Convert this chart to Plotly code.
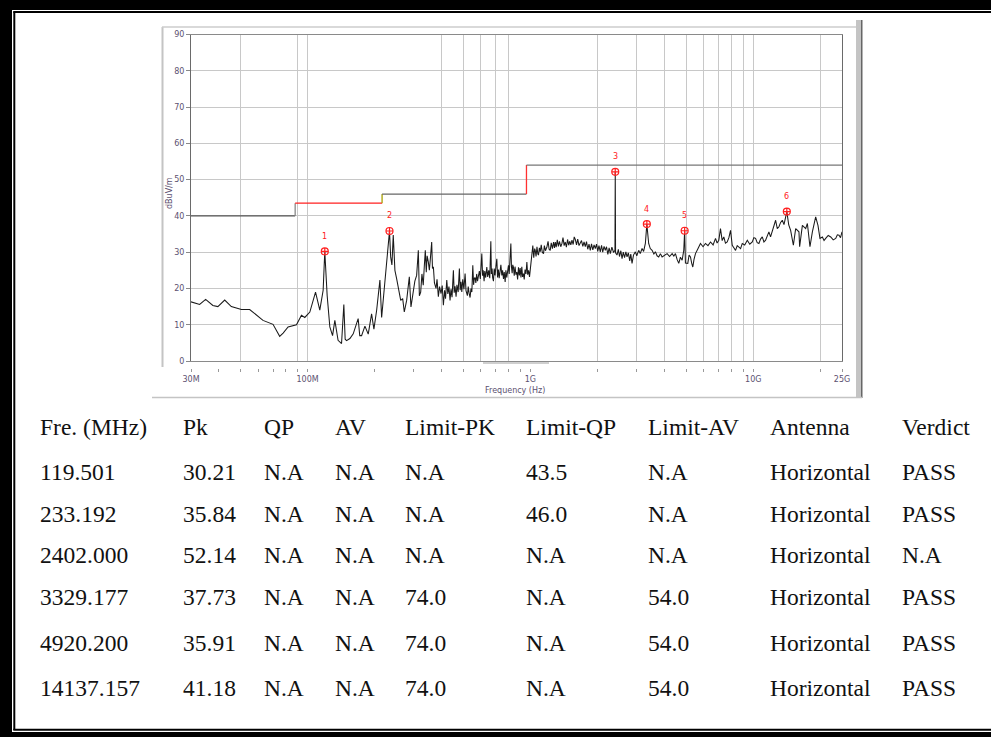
import math
import plotly.graph_objects as go

# ---------------- data ----------------
freq_mhz = [
    30.0, 32.8, 34.9, 37.6, 39.6, 42.5, 45.5, 50.5, 55.0, 59.0, 63.1, 70.0, 75.0, 77.7, 81.8,
    89.2, 93.9, 97.2, 102.4, 108.6, 113.5, 117.5, 119.5, 122.5, 125.9, 129.5, 132.6, 137.1,
    142.1, 145.5, 147.5, 149.7, 154.9, 160.3, 168.7, 171.5, 174.8, 180.9, 187.2, 193.8, 198.5,
    204.2, 211.2, 215.0, 222.4, 227.8, 233.2, 236.0, 239.1, 242.4, 246.6, 251.0, 255.3, 261.8,
    267.2, 271.7, 278.4, 286.2, 291.1, 298.2, 303, 308.7, 314.1, 317.5, 321.9, 326, 330.5, 334,
    337.6, 341, 344, 348.3, 352, 356, 360.6, 363.5, 366.9, 371, 377.1, 381, 386.3, 391, 397.3,
    402, 406.9, 412, 416, 421.4, 426, 431, 435.9, 440, 445, 451.2, 455, 459, 463.9, 468, 474,
    480, 484, 488, 492.1, 497, 503, 509.2, 514, 521.4, 526, 531, 536.2, 541, 546, 551.4, 556,
    560, 564.6, 569, 574, 579, 584.2, 590, 596, 605.2, 610, 614, 619.6, 624, 630, 637.2, 643,
    650, 657, 664.3, 668, 673, 677, 682.5, 688, 694, 700, 706.7, 712, 718, 724, 731.4, 737,
    744.2, 750, 757, 763, 770.2, 776, 783, 790, 797, 803, 810, 817, 822, 828, 833, 839, 846,
    853, 861, 869, 876, 884, 892, 899.5, 907, 915, 922, 930.6, 938, 946, 955, 964, 972, 981,
    990.6, 1015, 1025, 1035, 1045, 1051, 1060, 1070, 1080, 1087, 1097, 1107, 1118, 1130, 1145,
    1155, 1168, 1186, 1200, 1213, 1227, 1240, 1255, 1270, 1282, 1293, 1305, 1320, 1335, 1350,
    1368, 1385, 1400, 1417, 1433, 1450, 1468, 1485, 1500, 1518, 1536, 1555, 1572, 1590, 1610,
    1630, 1652, 1674, 1695, 1718, 1740, 1763, 1785, 1808, 1832, 1856, 1880, 1905, 1930, 1955,
    1980, 2005, 2030, 2058, 2085, 2110, 2140, 2168, 2195, 2225, 2255, 2283, 2320, 2361, 2395,
    2402, 2410, 2446, 2480, 2510, 2545, 2577, 2610, 2645, 2680, 2713, 2750, 2790, 2820, 2857,
    2900, 2957, 3000, 3060, 3110, 3169, 3220, 3279, 3329, 3393, 3450, 3515, 3580, 3637, 3700,
    3764, 3830, 3897, 4000, 4104, 4210, 4323, 4400, 4473, 4550, 4630, 4710, 4795, 4875, 4920,
    4960, 5082, 5150, 5225, 5290, 5352, 5420, 5503, 5650, 5793, 5950, 6101, 6260, 6426, 6600,
    6768, 6880, 7002, 7125, 7250, 7373, 7500, 7637, 7770, 7904, 8044, 8180, 8323, 8470, 8614,
    8770, 8922, 9150, 9397, 9640, 9895, 10060, 10237, 10410, 10594, 10780, 10972, 11160, 11353,
    11550, 11749, 11950, 12168, 12380, 12593, 12810, 13032, 13260, 13495, 13730, 13966, 14137,
    14420, 14707, 15125, 15490, 16025, 16140, 16603, 17178, 17482, 17957, 18409, 19047, 19504,
    19912, 20416, 20770, 21124, 21680, 22249, 22830, 23428, 23830, 24240, 24620, 25000,
]
level_dbuv = [
    16.3, 15.6, 17.0, 15.3, 15.0, 16.8, 15.0, 14.2, 14.2, 12.6, 11.2, 10.1, 6.8, 7.7, 9.4,
    10.0, 12.6, 12.0, 13.5, 19.0, 14.0, 19.5, 30.2, 18.0, 9.4, 7.0, 11.2, 5.7,
    4.8, 15.6, 6.0, 5.6, 6.2, 7.5, 11.7, 7.0, 7.0, 9.6, 7.4, 13.0, 8.8,
    14.0, 22.3, 12.0, 21.8, 30.5, 35.8, 28.7, 26.5, 34.7, 25.0, 22.7, 20.0, 16.7,
    17.2, 13.5, 16.7, 23.2, 14.9, 18.7, 22.0, 23.6, 30.5, 18.0, 19.0, 24.0, 20.9, 26.0,
    30.5, 24.5, 29.0, 27.3, 25.0, 28.5, 32.8, 25.5, 26.0, 21.5, 20.0, 22.5, 17.7, 20.5, 18.6,
    20.8, 15.4, 19.5, 17.2, 22.3, 18.5, 20.5, 16.7, 19.8, 17.6, 25.0, 18.8, 20.6, 17.7, 21.0, 19.0,
    25.5, 19.5, 21.8, 19.0, 22.5, 19.8, 24.1, 19.4, 18.0, 20.5, 18.6, 17.5, 20.0, 19.0, 26.4, 21.0,
    22.8, 23.0, 21.5, 24.0, 22.0, 23.2, 24.8, 22.6, 29.6, 23.5, 25.0, 22.0, 24.8, 23.0, 25.9, 23.2,
    25.0, 22.8, 33.0, 24.0, 25.5, 23.0, 22.0, 25.5, 23.6, 26.0, 28.2, 23.0, 25.2, 22.8, 24.5, 26.5,
    23.6, 25.0, 22.6, 24.5, 21.8, 25.0, 23.0, 25.5, 26.4, 24.0, 27.0, 32.4, 26.0, 24.2, 26.5, 25.9, 23.5,
    26.0, 23.8, 24.5, 22.5, 25.8, 23.6, 25.6, 23.0, 26.0, 23.2, 24.1, 22.5, 25.2, 24.0, 27.3, 23.8, 25.0,
    23.2, 29.2, 31.8, 28.5, 31.0, 30.5, 28.8, 31.5, 29.5, 29.2, 31.2, 30.1, 32.0, 30.0, 29.6,
    31.8, 30.4, 31.5, 33.0, 30.8, 30.5, 32.6, 31.0, 32.8, 31.2, 32.8, 31.4, 33.4, 31.6, 33.0,
    31.5, 32.4, 34.0, 31.8, 32.8, 31.4, 33.5, 31.9, 33.0, 32.0, 33.3, 32.1, 34.2, 33.5, 32.0,
    33.6, 31.8, 32.4, 33.2, 31.6, 32.8, 31.5, 32.9, 30.8, 32.2, 30.5, 32.3, 30.6, 32.0, 31.0,
    32.2, 30.2, 31.8, 30.1, 31.9, 30.0, 31.6, 30.5, 31.5, 29.4, 31.2, 29.6, 31.4, 29.9, 30.5,
    52.14, 29.8, 29.2, 30.8, 28.8, 30.4, 28.2, 30.0, 28.5, 30.1, 28.7, 29.8, 27.6, 29.5, 26.9,
    29.2, 30.1, 29.0, 30.5, 29.6, 31.0, 30.2, 32.4, 37.73, 32.4, 31.0, 30.5, 29.5, 30.1, 29.0,
    28.7, 29.6, 28.7, 29.2, 29.6, 28.8, 29.6, 28.9, 29.6, 28.0, 26.9, 28.6, 27.8, 30.5, 35.91,
    27.0, 26.9, 29.2, 28.7, 27.0, 25.9, 28.0, 29.6, 31.0, 32.4, 31.5, 32.4, 31.8, 32.8, 32.0,
    33.8, 32.5, 33.3, 36.5, 33.2, 34.2, 32.5, 32.8, 34.0, 36.0, 31.9, 31.2, 30.5, 31.8, 31.5,
    31.0, 32.4, 32.0, 33.3, 32.2, 32.8, 34.0, 33.8, 32.6, 32.4, 33.6, 34.2, 32.8, 33.3,
    34.6, 35.6, 34.2, 36.0, 37.2, 38.8, 36.5, 37.0, 38.2, 38.8, 37.6, 39.7, 41.18,
    37.5, 36.0, 31.9, 36.5, 35.6, 31.5, 37.4, 36.5, 37.9, 31.5, 35.6, 39.7, 37.4,
    33.8, 34.2, 33.2, 33.8, 34.6, 34.2, 33.4, 33.8, 34.8, 34.7, 34.0, 35.6,
]

limit_freq = [30, 88, 88, 216, 216, 960, 960, 25000]
limit_level = [40, 40, 43.5, 43.5, 46, 46, 54, 54]

peak_no = ["1", "2", "3", "4", "5", "6"]
peak_freq = [119.501, 233.192, 2402.000, 3329.177, 4920.200, 14137.157]
peak_level = [30.21, 35.84, 52.14, 37.73, 35.91, 41.18]

y_ticks = [0, 10, 20, 30, 40, 50, 60, 70, 80, 90]
grid_freqs = [50, 90, 100, 400, 500, 600, 700, 800, 2000, 3000, 4000, 5000, 6000,
              7000, 8000, 9000, 10000, 20000]
minor_tick_freqs = [30, 40, 50, 60, 70, 80, 90, 100, 200, 300, 400, 500, 600, 700, 800, 900,
                    1000, 2000, 3000, 4000, 5000, 6000, 7000, 8000, 9000, 10000, 20000, 25000]
x_labels = {30: "30M", 100: "100M", 1000: "1G", 10000: "10G", 25000: "25G"}

table_header = ["Fre. (MHz)", "Pk", "QP", "AV", "Limit-PK", "Limit-QP", "Limit-AV", "Antenna", "Verdict"]
table_rows = [
    ["119.501", "30.21", "N.A", "N.A", "N.A", "43.5", "N.A", "Horizontal", "PASS"],
    ["233.192", "35.84", "N.A", "N.A", "N.A", "46.0", "N.A", "Horizontal", "PASS"],
    ["2402.000", "52.14", "N.A", "N.A", "N.A", "N.A", "N.A", "Horizontal", "N.A"],
    ["3329.177", "37.73", "N.A", "N.A", "74.0", "N.A", "54.0", "Horizontal", "PASS"],
    ["4920.200", "35.91", "N.A", "N.A", "74.0", "N.A", "54.0", "Horizontal", "PASS"],
    ["14137.157", "41.18", "N.A", "N.A", "74.0", "N.A", "54.0", "Horizontal", "PASS"],
]

# ---------------- layout geometry ----------------
W, H = 991, 737
def px(xp):
    return xp / W
def py(yp):
    return 1 - yp / H

col_x = [38, 181, 262, 333, 403, 524, 646, 768, 900]
row_y = [427, 472, 514, 555, 597, 643, 688]

small_font = dict(family="DejaVu Sans", size=8, color="#5c5070")
xrange = [math.log10(30), math.log10(25000)]

fig = go.Figure()

# limit line, drawn in coloured segments
seg_colors = ["#555555", "#888888", "#ff2020", "#a8a000", "#666666", "#ff3030", "#777777"]
for i in range(len(limit_freq) - 1):
    fig.add_trace(go.Scatter(
        x=limit_freq[i:i + 2], y=limit_level[i:i + 2], mode="lines",
        line=dict(color=seg_colors[i], width=1.3), showlegend=False, hoverinfo="skip"))

# measured spectrum
fig.add_trace(go.Scatter(x=freq_mhz, y=level_dbuv, mode="lines",
                         line=dict(color="#1a1a1a", width=1.05), showlegend=False))

# peak markers
fig.add_trace(go.Scatter(x=peak_freq, y=peak_level, mode="markers",
                         marker=dict(symbol="circle-cross-open", size=7,
                                     color="#ff2020", line=dict(width=1.2, color="#ff2020")),
                         showlegend=False))

# helper trace for the detached tick axis
fig.add_trace(go.Scatter(x=[], y=[], xaxis="x2", yaxis="y", showlegend=False))

annotations = []
for n, f, lv in zip(peak_no, peak_freq, peak_level):
    annotations.append(dict(x=math.log10(f), y=lv, xref="x", yref="y", text=n,
                            showarrow=False, yshift=15, xanchor="center", yanchor="middle",
                            font=dict(family="DejaVu Sans", size=8, color="#ff2020")))

annotations.append(dict(x=px(169), y=py(193), xref="paper", yref="paper", text="dBuV/m",
                        textangle=-90, showarrow=False, xanchor="center", yanchor="middle",
                        font=small_font))
annotations.append(dict(x=px(515), y=py(390), xref="paper", yref="paper", text="Frequency (Hz)",
                        showarrow=False, xanchor="center", yanchor="middle", font=small_font))

table_font = dict(family="Liberation Serif", size=23.5, color="#111111")
for row_i, row in enumerate([table_header] + table_rows):
    for col_i, txt in enumerate(row):
        annotations.append(dict(x=px(col_x[col_i]), y=py(row_y[row_i]), xref="paper", yref="paper",
                                text=txt, showarrow=False, xanchor="left", yanchor="middle",
                                font=table_font))

shapes = []
def rect(x0, y0, x1, y1, color):
    shapes.append(dict(type="rect", xref="paper", yref="paper", x0=px(x0), x1=px(x1),
                       y0=py(y1), y1=py(y0), fillcolor=color, line=dict(width=0), layer="above"))
def hline(x0, x1, y, color, w):
    shapes.append(dict(type="line", xref="paper", yref="paper", x0=px(x0), x1=px(x1),
                       y0=py(y), y1=py(y), line=dict(color=color, width=w), layer="above"))
def vline(x, y0, y1, color, w):
    shapes.append(dict(type="line", xref="paper", yref="paper", x0=px(x), x1=px(x),
                       y0=py(y0), y1=py(y1), line=dict(color=color, width=w), layer="above"))

# outer page border
rect(0, 0, 12, H, "#000000")
rect(0, 0, W, 10, "#000000")
rect(0, 732, W, H, "#000000")
vline(14.3, 11.5, 730, "#000000", 2)
hline(13.3, W, 12, "#000000", 2)
hline(13.3, W, 729.7, "#000000", 2)

# chart picture frame
vline(162.5, 27, 367, "#c4c4c4", 2)
hline(162, 856, 27, "#cccccc", 1.5)
rect(856, 20, 861, 398, "#c4c4c4")
vline(861.8, 20, 398, "#404040", 1.2)
hline(152, 862, 397.5, "#c4c4c4", 1.5)
hline(483, 549, 363, "#a0a0a0", 1)

fig.update_layout(
    template="none",
    width=W, height=H, autosize=False,
    margin=dict(l=0, r=0, t=0, b=0, pad=0, autoexpand=False),
    paper_bgcolor="white", plot_bgcolor="white",
    showlegend=False,
    xaxis=dict(type="log", range=xrange, domain=[px(191), px(842)], automargin=False,
               tickvals=grid_freqs, showticklabels=False, ticks="",
               showgrid=True, gridcolor="#c8c8c8", gridwidth=1.3,
               showline=True, mirror=True, linecolor="#8a8a8a", linewidth=1,
               zeroline=False),
    xaxis2=dict(type="log", range=xrange, overlaying="x", anchor="free", automargin=False,
                position=py(368), side="bottom",
                tickvals=minor_tick_freqs,
                ticktext=[x_labels.get(v, "") for v in minor_tick_freqs],
                ticks="outside", ticklen=3, tickcolor="#999999", tickwidth=1,
                showline=False, showgrid=False, zeroline=False,
                tickfont=small_font),
    yaxis=dict(range=[0, 90], domain=[py(361), py(34.5)], tickvals=y_ticks, automargin=False,
               ticks="outside", ticklen=4, tickcolor="#888888",
               showgrid=True, gridcolor="#c8c8c8", gridwidth=1.3,
               showline=True, mirror=True, linecolor="#6a6a6a", linewidth=1,
               zeroline=False, tickfont=small_font),
    annotations=annotations,
    shapes=shapes,
)

fig.write_html("out.html", config={"displayModeBar": False},
               post_script="document.body.style.margin='0';document.body.style.overflow='hidden';")
